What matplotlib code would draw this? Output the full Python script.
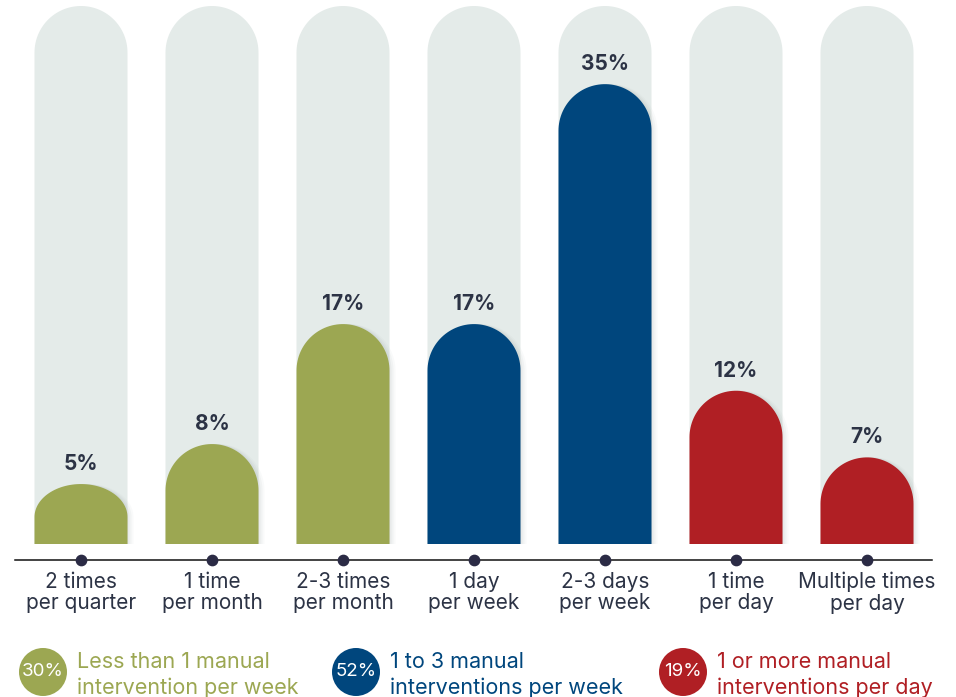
import numpy as np
import matplotlib
matplotlib.use("Agg")
import matplotlib.pyplot as plt
from matplotlib.path import Path
from matplotlib.patches import PathPatch, Ellipse

# ---------------- data ----------------
categories = ["2 times\nper quarter", "1 time\nper month", "2-3 times\nper month",
              "1 day\nper week", "2-3 days\nper week", "1 time\nper day",
              "Multiple times\nper day"]
values = [5, 8, 17, 17, 35, 12, 7]
groups = [0, 0, 0, 1, 1, 2, 2]
group_colors = ["#9ca752", "#00467d", "#b01f24"]
legend_values = ["30%", "52%", "19%"]
legend_labels = ["Less than 1 manual\nintervention per week",
                 "1 to 3 manual\ninterventions per week",
                 "1 or more manual\ninterventions per day"]

# ---------------- layout ----------------
W, H, DPI = 956, 697, 100
PX_X = 131.0      # pixels per category
PX_Y = 13.33      # pixels per percent
X0 = 81.0         # pixel centre of first bar
Y0 = 550.7        # pixel (from top) of value zero
BASE = 544.0      # pixel where bars visually end

plt.rcParams["font.family"] = ["Inter", "DejaVu Sans"]

fig = plt.figure(figsize=(W / DPI, H / DPI), dpi=DPI)
ax = fig.add_axes([0, 0, 1, 1])
ax.set_xlim(-X0 / PX_X, (W - X0) / PX_X)
ax.set_ylim(-(H - Y0) / PX_Y, Y0 / PX_Y)
ax.axis("off")


def py(p):
    """pixel row (from top) -> data y"""
    return (Y0 - p) / PX_Y


bar_w = 93 / PX_X
rx = bar_w / 2
ry_full = (bar_w / 2) * PX_X / PX_Y
track_h = py(6)
y_bot = py(BASE)


def rounded_bar(xc, h, ry):
    ry = min(ry, (h - y_bot) * 0.55)
    t = np.linspace(np.pi, 0, 60)
    xs = list(xc + rx * np.cos(t))
    ys = list(h - ry + ry * np.sin(t))
    verts = [(xc - rx, y_bot)] + list(zip(xs, ys)) + [(xc + rx, y_bot), (xc - rx, y_bot)]
    codes = [Path.MOVETO] + [Path.LINETO] * (len(verts) - 2) + [Path.CLOSEPOLY]
    return Path(verts, codes)


text_col = "#2c3345"
for i, (v, g) in enumerate(zip(values, groups)):
    ax.add_patch(PathPatch(rounded_bar(i, track_h, ry_full), fc="#e4ebe9", ec="none", zorder=1))
    # soft shadow
    for k, a in zip([6, 4, 2], [0.04, 0.06, 0.08]):
        p = rounded_bar(i + k / PX_X, v, ry_full)
        ax.add_patch(PathPatch(p, fc="#7f8c8a", ec="none", alpha=a, zorder=2))
    ax.add_patch(PathPatch(rounded_bar(i, v, ry_full), fc=group_colors[g], ec="none", zorder=3))
    ax.text(i, v + 20 / PX_Y, f"{v}%", ha="center", va="center", fontsize=15,
            fontweight="bold", color=text_col, zorder=4)
    ax.text(i, py(592.5), categories[i], ha="center", va="center",
            fontsize=15, color=text_col, linespacing=1.1, zorder=4)

# axis line & dots
yl = py(560)
ax.plot([(15 - X0) / PX_X, (932 - X0) / PX_X], [yl, yl], color="#111111", lw=1.1, zorder=4)
ax.scatter(range(len(values)), [yl] * len(values), s=55, color="#2b2b45", zorder=5)

# legend
leg_cx = [43, 356, 683]
for j in range(3):
    cx = (leg_cx[j] - X0) / PX_X
    cy = py(672)
    ax.add_patch(Ellipse((cx, cy), 48 / PX_X, 48 / PX_Y, fc=group_colors[j], ec="none", zorder=4))
    ax.text(cx, cy, legend_values[j], ha="center", va="center", fontsize=13.5,
            color="white", zorder=5)
    ax.text(cx + 34 / PX_X, py(675), legend_labels[j], ha="left", va="center",
            fontsize=15.5, color=group_colors[j], linespacing=1.3, zorder=5)

fig.savefig("out.png", dpi=DPI)
